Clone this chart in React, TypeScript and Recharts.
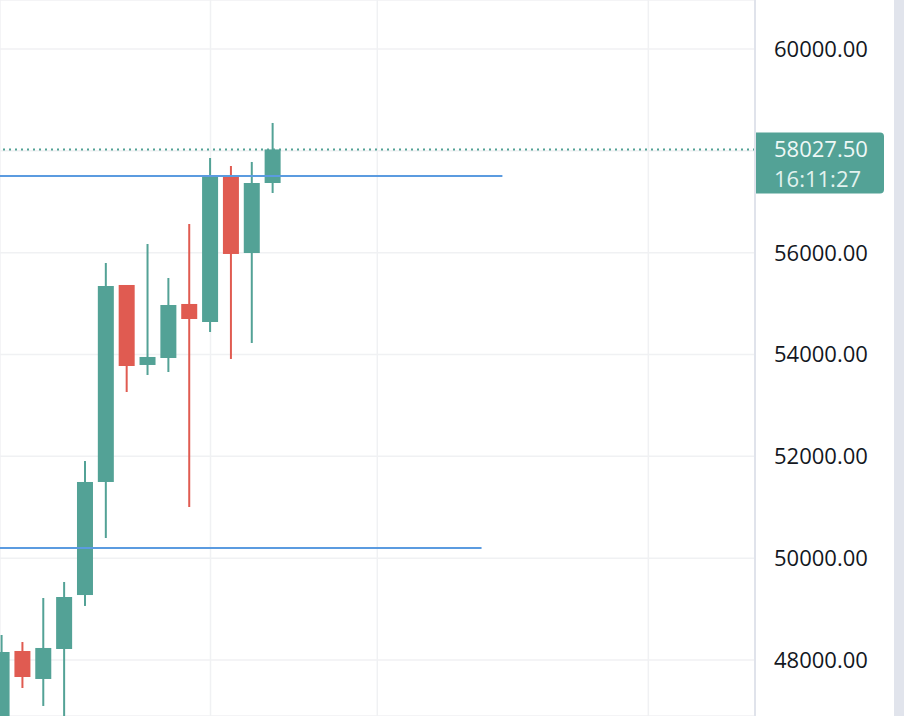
import { Bar, CartesianGrid, ComposedChart, ReferenceLine, XAxis, YAxis } from "recharts";

// daily candles, oldest first (first and fourth are cut off at the bottom)
const OPEN = [46700, 48177, 47627, 48216, 49276, 51496, 55365, 53794, 53931, 54992, 54638, 57486, 55993, 57368];
const HIGH = [48491, 48353, 49218, 49532, 51908, 55797, 55365, 56170, 55502, 56563, 57859, 57702, 57781, 58547];
const LOW = [46500, 47450, 47097, 46600, 49061, 50396, 53263, 53597, 53656, 51005, 54442, 53912, 54226, 57172];
const CLOSE = [48157, 47666, 48236, 49237, 51496, 55345, 53774, 53951, 54972, 54697, 57486, 55974, 57368, 58027.5];

const PRICE_TICKS = [48000, 50000, 52000, 54000, 56000, 58000, 60000];
const TIME_GRID = [0, 10, 18, 31];
// horizontal levels drawn by hand: price and bar index where they end
const LEVELS = [
  { price: 57506, end: 24 },
  { price: 50200, end: 23 },
];
const LAST_TIME = "16:11:27";

const UP = "#53a296";
const DOWN = "#e05b51";
const GRID = "#f0f1f3";
const FONT = "'Open Sans', sans-serif";

const data = OPEN.map((o, i) => ({ i, open: o, high: HIGH[i], low: LOW[i], close: CLOSE[i] }));
const last = data[data.length - 1];

function Candle(props: any) {
  const { x, y, width, height, payload } = props;
  const up = payload.close >= payload.open;
  const color = up ? UP : DOWN;
  const top = Math.min(y, y + height);
  const h = Math.abs(height);
  const k = payload.high - payload.low ? h / (payload.high - payload.low) : 0;
  const bTop = top + (payload.high - Math.max(payload.open, payload.close)) * k;
  const bBot = top + (payload.high - Math.min(payload.open, payload.close)) * k;
  const cx = x + width / 2;
  return (
    <g>
      <line x1={cx} x2={cx} y1={top} y2={top + h} stroke={color} strokeWidth={2} />
      <rect x={x} y={bTop} width={width} height={Math.max(bBot - bTop, 1.5)} fill={color} />
    </g>
  );
}

function PriceTick(props: any) {
  const { x, y, payload } = props;
  if (Math.abs(payload.value - last.close) < 700) return <g />;
  return (
    <text x={x} y={y} dy="0.36em" fill="#131722" fontSize={22} fontFamily={FONT} textAnchor="start">
      {payload.value.toFixed(2)}
    </text>
  );
}

function PriceLabel(props: any) {
  const { viewBox } = props;
  const x0 = viewBox.x + viewBox.width - 1;
  const y0 = viewBox.y;
  const w = 130;
  const t = y0 - 17;
  const b = y0 + 44;
  const r = 4;
  return (
    <g>
      <path
        d={`M${x0},${t} H${x0 + w - r} Q${x0 + w},${t} ${x0 + w},${t + r} V${b - r} Q${x0 + w},${b} ${x0 + w - r},${b} H${x0} Z`}
        fill={UP}
      />
      <text x={x0 + 20} y={y0} dy="0.36em" fill="#eef8f6" fontSize={22} fontFamily={FONT}>
        {last.close.toFixed(2)}
      </text>
      <text x={x0 + 20} y={y0 + 30} dy="0.36em" fill="#e2f2ef" fontSize={22} fontFamily={FONT}>
        {LAST_TIME}
      </text>
    </g>
  );
}

export default function App() {
  return (
    <div style={{ position: "absolute", left: 0, top: 0, width: 904, height: 716, background: "#e1e4ec" }}>
      <div style={{ width: 894, height: 716, background: "#ffffff" }}>
        <ComposedChart width={894} height={716} data={data} margin={{ top: 0, right: 0, bottom: 0, left: 0 }}>
          <CartesianGrid stroke={GRID} strokeWidth={1.5} />
          <XAxis dataKey="i" type="number" domain={[-0.096, 36.115]} ticks={TIME_GRID} hide allowDataOverflow />
          <YAxis
            orientation="right"
            width={139}
            domain={[46900, 60962]}
            ticks={PRICE_TICKS}
            allowDataOverflow
            axisLine={{ stroke: "#e0e3eb", strokeWidth: 2 }}
            tickLine={false}
            tickSize={0}
            tickMargin={19}
            tick={<PriceTick />}
          />
          {LEVELS.map((l) => (
            <ReferenceLine
              key={l.price}
              segment={[
                { x: -0.096, y: l.price },
                { x: l.end, y: l.price },
              ]}
              stroke="#5b9be0"
              strokeWidth={2}
            />
          ))}
          <ReferenceLine
            y={last.close}
            stroke={UP}
            strokeWidth={2}
            strokeDasharray="2 4"
            label={<PriceLabel />}
          />
          <Bar
            dataKey={(d: any) => [d.low, d.high]}
            barSize={16}
            shape={<Candle />}
            isAnimationActive={false}
          />
        </ComposedChart>
      </div>
    </div>
  );
}
